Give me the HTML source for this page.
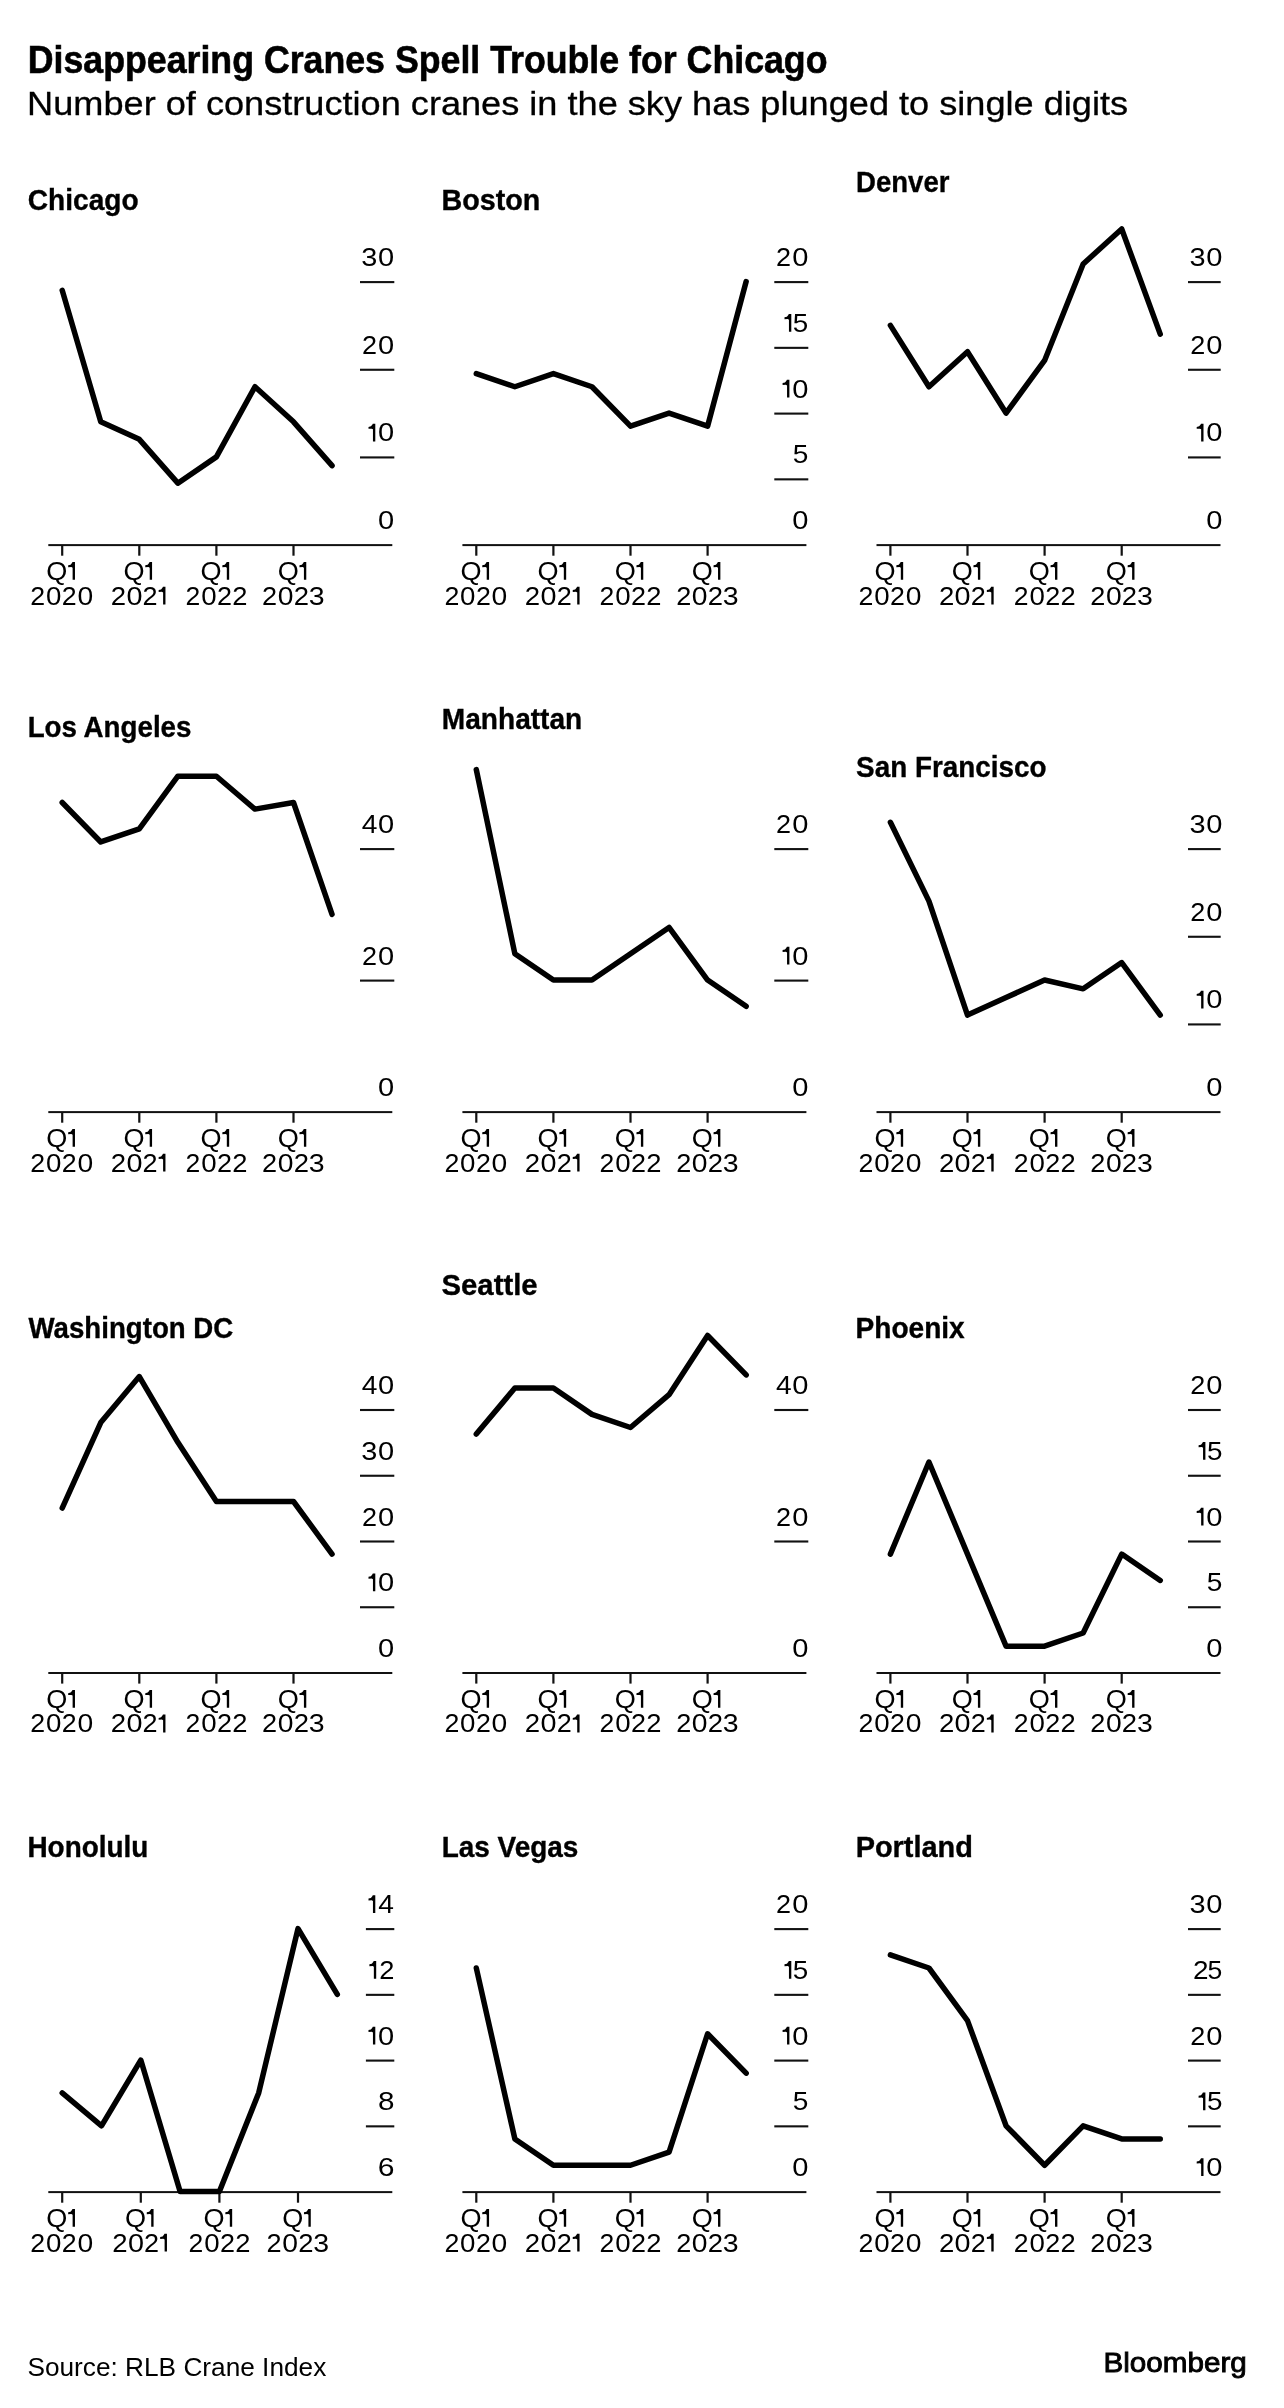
<!DOCTYPE html>
<html><head><meta charset="utf-8"><style>
html,body{margin:0;padding:0;background:#fff;}
svg{display:block;filter:grayscale(1);}
text{font-family:"Liberation Sans",sans-serif;fill:#000;}
</style></head><body>
<svg width="1284" height="2408" viewBox="0 0 1284 2408">
<rect width="1284" height="2408" fill="#fff"/>
<text x="27.72" y="73.20" font-size="38.5" font-weight="bold" textLength="799.77" lengthAdjust="spacingAndGlyphs" stroke="#000" stroke-width="0.6">Disappearing Cranes Spell Trouble for Chicago</text>
<text x="27.14" y="114.50" font-size="33.3" textLength="1100.97" lengthAdjust="spacingAndGlyphs" stroke="#000" stroke-width="0.3">Number of construction cranes in the sky has plunged to single digits</text>
<text x="27.75" y="209.70" font-size="28.8" font-weight="bold" textLength="110.85" lengthAdjust="spacingAndGlyphs" stroke="#000" stroke-width="0.35">Chicago</text>
<text x="378.06" y="529.10" font-size="25.4" textLength="16.17" lengthAdjust="spacingAndGlyphs">0</text>
<rect x="360.00" y="456.38" width="34.30" height="2.1" fill="#111"/>
<path d="M375.30,423.63 L375.30,441.43 L372.95,441.43 L372.95,429.33 L371.70,428.63 L368.50,428.83 L368.50,426.93 L370.90,426.33 L372.30,424.63 L372.80,423.63 Z"/>
<text x="378.06" y="441.43" font-size="25.4" textLength="16.17" lengthAdjust="spacingAndGlyphs">0</text>
<rect x="360.00" y="368.72" width="34.30" height="2.1" fill="#111"/>
<text x="362.04" y="353.77" font-size="25.4" textLength="15.02" lengthAdjust="spacingAndGlyphs">2</text>
<text x="378.06" y="353.77" font-size="25.4" textLength="16.17" lengthAdjust="spacingAndGlyphs">0</text>
<rect x="360.00" y="281.05" width="34.30" height="2.1" fill="#111"/>
<text x="361.20" y="266.10" font-size="25.4" textLength="16.07" lengthAdjust="spacingAndGlyphs">3</text>
<text x="378.06" y="266.10" font-size="25.4" textLength="16.17" lengthAdjust="spacingAndGlyphs">0</text>
<rect x="48.30" y="544.10" width="344.00" height="2.0" fill="#111"/>
<rect x="61.10" y="545.10" width="2.2" height="10.6" fill="#111"/>
<text x="46.36" y="579.80" font-size="25.4" textLength="21.09" lengthAdjust="spacingAndGlyphs">Q</text>
<path d="M74.97,562.00 L74.97,579.80 L72.62,579.80 L72.62,567.70 L71.37,567.00 L68.17,567.20 L68.17,565.30 L70.57,564.70 L71.97,563.00 L72.47,562.00 Z"/>
<text x="30.37" y="604.50" font-size="25.4" textLength="14.87" lengthAdjust="spacingAndGlyphs">2</text>
<text x="45.99" y="604.50" font-size="25.4" textLength="15.40" lengthAdjust="spacingAndGlyphs">0</text>
<text x="61.88" y="604.50" font-size="25.4" textLength="14.87" lengthAdjust="spacingAndGlyphs">2</text>
<text x="77.48" y="604.50" font-size="25.4" textLength="15.72" lengthAdjust="spacingAndGlyphs">0</text>
<rect x="138.20" y="545.10" width="2.2" height="10.6" fill="#111"/>
<text x="123.46" y="579.80" font-size="25.4" textLength="21.09" lengthAdjust="spacingAndGlyphs">Q</text>
<path d="M152.07,562.00 L152.07,579.80 L149.72,579.80 L149.72,567.70 L148.47,567.00 L145.27,567.20 L145.27,565.30 L147.67,564.70 L149.07,563.00 L149.57,562.00 Z"/>
<text x="110.71" y="604.50" font-size="25.4" textLength="15.33" lengthAdjust="spacingAndGlyphs">2</text>
<text x="126.44" y="604.50" font-size="25.4" textLength="16.01" lengthAdjust="spacingAndGlyphs">0</text>
<text x="142.61" y="604.50" font-size="25.4" textLength="15.04" lengthAdjust="spacingAndGlyphs">2</text>
<path d="M165.46,586.70 L165.46,604.50 L163.11,604.50 L163.11,592.40 L161.86,591.70 L158.66,591.90 L158.66,590.00 L161.06,589.40 L162.46,587.70 L162.96,586.70 Z"/>
<rect x="215.30" y="545.10" width="2.2" height="10.6" fill="#111"/>
<text x="200.56" y="579.80" font-size="25.4" textLength="21.09" lengthAdjust="spacingAndGlyphs">Q</text>
<path d="M229.17,562.00 L229.17,579.80 L226.82,579.80 L226.82,567.70 L225.57,567.00 L222.37,567.20 L222.37,565.30 L224.77,564.70 L226.17,563.00 L226.67,562.00 Z"/>
<text x="185.48" y="604.50" font-size="25.4" textLength="14.75" lengthAdjust="spacingAndGlyphs">2</text>
<text x="201.25" y="604.50" font-size="25.4" textLength="15.40" lengthAdjust="spacingAndGlyphs">0</text>
<text x="217.02" y="604.50" font-size="25.4" textLength="15.00" lengthAdjust="spacingAndGlyphs">2</text>
<text x="232.21" y="604.50" font-size="25.4" textLength="15.20" lengthAdjust="spacingAndGlyphs">2</text>
<rect x="292.40" y="545.10" width="2.2" height="10.6" fill="#111"/>
<text x="277.66" y="579.80" font-size="25.4" textLength="21.09" lengthAdjust="spacingAndGlyphs">Q</text>
<path d="M306.27,562.00 L306.27,579.80 L303.92,579.80 L303.92,567.70 L302.67,567.00 L299.47,567.20 L299.47,565.30 L301.87,564.70 L303.27,563.00 L303.77,562.00 Z"/>
<text x="262.08" y="604.50" font-size="25.4" textLength="15.06" lengthAdjust="spacingAndGlyphs">2</text>
<text x="277.70" y="604.50" font-size="25.4" textLength="15.72" lengthAdjust="spacingAndGlyphs">0</text>
<text x="293.68" y="604.50" font-size="25.4" textLength="15.26" lengthAdjust="spacingAndGlyphs">2</text>
<text x="308.71" y="604.50" font-size="25.4" textLength="15.84" lengthAdjust="spacingAndGlyphs">3</text>
<polyline points="62.20,290.32 100.75,421.82 139.30,439.35 177.85,483.18 216.40,456.88 254.95,386.75 293.50,421.82 332.05,465.65" fill="none" stroke="#000" stroke-width="5.5" stroke-linejoin="round" stroke-linecap="round"/>
<text x="441.58" y="209.70" font-size="28.8" font-weight="bold" textLength="98.80" lengthAdjust="spacingAndGlyphs" stroke="#000" stroke-width="0.35">Boston</text>
<text x="792.16" y="529.10" font-size="25.4" textLength="16.17" lengthAdjust="spacingAndGlyphs">0</text>
<rect x="774.30" y="478.30" width="34.00" height="2.1" fill="#111"/>
<text x="792.78" y="463.35" font-size="25.4" textLength="15.60" lengthAdjust="spacingAndGlyphs">5</text>
<rect x="774.30" y="412.55" width="34.00" height="2.1" fill="#111"/>
<path d="M789.40,379.80 L789.40,397.60 L787.05,397.60 L787.05,385.50 L785.80,384.80 L782.60,385.00 L782.60,383.10 L785.00,382.50 L786.40,380.80 L786.90,379.80 Z"/>
<text x="792.16" y="397.60" font-size="25.4" textLength="16.17" lengthAdjust="spacingAndGlyphs">0</text>
<rect x="774.30" y="346.80" width="34.00" height="2.1" fill="#111"/>
<path d="M791.30,314.05 L791.30,331.85 L788.95,331.85 L788.95,319.75 L787.70,319.05 L784.50,319.25 L784.50,317.35 L786.90,316.75 L788.30,315.05 L788.80,314.05 Z"/>
<text x="792.89" y="331.85" font-size="25.4" textLength="15.48" lengthAdjust="spacingAndGlyphs">5</text>
<rect x="774.30" y="281.05" width="34.00" height="2.1" fill="#111"/>
<text x="776.14" y="266.10" font-size="25.4" textLength="15.02" lengthAdjust="spacingAndGlyphs">2</text>
<text x="792.16" y="266.10" font-size="25.4" textLength="16.17" lengthAdjust="spacingAndGlyphs">0</text>
<rect x="462.40" y="544.10" width="344.00" height="2.0" fill="#111"/>
<rect x="475.20" y="545.10" width="2.2" height="10.6" fill="#111"/>
<text x="460.46" y="579.80" font-size="25.4" textLength="21.09" lengthAdjust="spacingAndGlyphs">Q</text>
<path d="M489.07,562.00 L489.07,579.80 L486.72,579.80 L486.72,567.70 L485.47,567.00 L482.27,567.20 L482.27,565.30 L484.67,564.70 L486.07,563.00 L486.57,562.00 Z"/>
<text x="444.47" y="604.50" font-size="25.4" textLength="14.87" lengthAdjust="spacingAndGlyphs">2</text>
<text x="460.09" y="604.50" font-size="25.4" textLength="15.40" lengthAdjust="spacingAndGlyphs">0</text>
<text x="475.98" y="604.50" font-size="25.4" textLength="14.87" lengthAdjust="spacingAndGlyphs">2</text>
<text x="491.58" y="604.50" font-size="25.4" textLength="15.72" lengthAdjust="spacingAndGlyphs">0</text>
<rect x="552.30" y="545.10" width="2.2" height="10.6" fill="#111"/>
<text x="537.56" y="579.80" font-size="25.4" textLength="21.09" lengthAdjust="spacingAndGlyphs">Q</text>
<path d="M566.17,562.00 L566.17,579.80 L563.82,579.80 L563.82,567.70 L562.57,567.00 L559.37,567.20 L559.37,565.30 L561.77,564.70 L563.17,563.00 L563.67,562.00 Z"/>
<text x="524.81" y="604.50" font-size="25.4" textLength="15.33" lengthAdjust="spacingAndGlyphs">2</text>
<text x="540.54" y="604.50" font-size="25.4" textLength="16.01" lengthAdjust="spacingAndGlyphs">0</text>
<text x="556.71" y="604.50" font-size="25.4" textLength="15.04" lengthAdjust="spacingAndGlyphs">2</text>
<path d="M579.56,586.70 L579.56,604.50 L577.21,604.50 L577.21,592.40 L575.96,591.70 L572.76,591.90 L572.76,590.00 L575.16,589.40 L576.56,587.70 L577.06,586.70 Z"/>
<rect x="629.40" y="545.10" width="2.2" height="10.6" fill="#111"/>
<text x="614.66" y="579.80" font-size="25.4" textLength="21.09" lengthAdjust="spacingAndGlyphs">Q</text>
<path d="M643.27,562.00 L643.27,579.80 L640.92,579.80 L640.92,567.70 L639.67,567.00 L636.47,567.20 L636.47,565.30 L638.87,564.70 L640.27,563.00 L640.77,562.00 Z"/>
<text x="599.58" y="604.50" font-size="25.4" textLength="14.75" lengthAdjust="spacingAndGlyphs">2</text>
<text x="615.35" y="604.50" font-size="25.4" textLength="15.40" lengthAdjust="spacingAndGlyphs">0</text>
<text x="631.12" y="604.50" font-size="25.4" textLength="15.00" lengthAdjust="spacingAndGlyphs">2</text>
<text x="646.31" y="604.50" font-size="25.4" textLength="15.20" lengthAdjust="spacingAndGlyphs">2</text>
<rect x="706.50" y="545.10" width="2.2" height="10.6" fill="#111"/>
<text x="691.76" y="579.80" font-size="25.4" textLength="21.09" lengthAdjust="spacingAndGlyphs">Q</text>
<path d="M720.37,562.00 L720.37,579.80 L718.02,579.80 L718.02,567.70 L716.77,567.00 L713.57,567.20 L713.57,565.30 L715.97,564.70 L717.37,563.00 L717.87,562.00 Z"/>
<text x="676.18" y="604.50" font-size="25.4" textLength="15.06" lengthAdjust="spacingAndGlyphs">2</text>
<text x="691.80" y="604.50" font-size="25.4" textLength="15.72" lengthAdjust="spacingAndGlyphs">0</text>
<text x="707.78" y="604.50" font-size="25.4" textLength="15.26" lengthAdjust="spacingAndGlyphs">2</text>
<text x="722.81" y="604.50" font-size="25.4" textLength="15.84" lengthAdjust="spacingAndGlyphs">3</text>
<polyline points="476.30,373.60 514.85,386.75 553.40,373.60 591.95,386.75 630.50,426.20 669.05,413.05 707.60,426.20 746.15,281.55" fill="none" stroke="#000" stroke-width="5.5" stroke-linejoin="round" stroke-linecap="round"/>
<text x="856.06" y="191.70" font-size="28.8" font-weight="bold" textLength="93.36" lengthAdjust="spacingAndGlyphs" stroke="#000" stroke-width="0.35">Denver</text>
<text x="1206.26" y="529.10" font-size="25.4" textLength="16.17" lengthAdjust="spacingAndGlyphs">0</text>
<rect x="1188.00" y="456.38" width="32.70" height="2.1" fill="#111"/>
<path d="M1203.50,423.63 L1203.50,441.43 L1201.15,441.43 L1201.15,429.33 L1199.90,428.63 L1196.70,428.83 L1196.70,426.93 L1199.10,426.33 L1200.50,424.63 L1201.00,423.63 Z"/>
<text x="1206.26" y="441.43" font-size="25.4" textLength="16.17" lengthAdjust="spacingAndGlyphs">0</text>
<rect x="1188.00" y="368.72" width="32.70" height="2.1" fill="#111"/>
<text x="1190.24" y="353.77" font-size="25.4" textLength="15.02" lengthAdjust="spacingAndGlyphs">2</text>
<text x="1206.26" y="353.77" font-size="25.4" textLength="16.17" lengthAdjust="spacingAndGlyphs">0</text>
<rect x="1188.00" y="281.05" width="32.70" height="2.1" fill="#111"/>
<text x="1189.40" y="266.10" font-size="25.4" textLength="16.07" lengthAdjust="spacingAndGlyphs">3</text>
<text x="1206.26" y="266.10" font-size="25.4" textLength="16.17" lengthAdjust="spacingAndGlyphs">0</text>
<rect x="876.50" y="544.10" width="344.00" height="2.0" fill="#111"/>
<rect x="889.30" y="545.10" width="2.2" height="10.6" fill="#111"/>
<text x="874.56" y="579.80" font-size="25.4" textLength="21.09" lengthAdjust="spacingAndGlyphs">Q</text>
<path d="M903.17,562.00 L903.17,579.80 L900.82,579.80 L900.82,567.70 L899.57,567.00 L896.37,567.20 L896.37,565.30 L898.77,564.70 L900.17,563.00 L900.67,562.00 Z"/>
<text x="858.57" y="604.50" font-size="25.4" textLength="14.87" lengthAdjust="spacingAndGlyphs">2</text>
<text x="874.19" y="604.50" font-size="25.4" textLength="15.40" lengthAdjust="spacingAndGlyphs">0</text>
<text x="890.08" y="604.50" font-size="25.4" textLength="14.87" lengthAdjust="spacingAndGlyphs">2</text>
<text x="905.68" y="604.50" font-size="25.4" textLength="15.72" lengthAdjust="spacingAndGlyphs">0</text>
<rect x="966.40" y="545.10" width="2.2" height="10.6" fill="#111"/>
<text x="951.66" y="579.80" font-size="25.4" textLength="21.09" lengthAdjust="spacingAndGlyphs">Q</text>
<path d="M980.27,562.00 L980.27,579.80 L977.92,579.80 L977.92,567.70 L976.67,567.00 L973.47,567.20 L973.47,565.30 L975.87,564.70 L977.27,563.00 L977.77,562.00 Z"/>
<text x="938.91" y="604.50" font-size="25.4" textLength="15.33" lengthAdjust="spacingAndGlyphs">2</text>
<text x="954.64" y="604.50" font-size="25.4" textLength="16.01" lengthAdjust="spacingAndGlyphs">0</text>
<text x="970.81" y="604.50" font-size="25.4" textLength="15.04" lengthAdjust="spacingAndGlyphs">2</text>
<path d="M993.66,586.70 L993.66,604.50 L991.31,604.50 L991.31,592.40 L990.06,591.70 L986.86,591.90 L986.86,590.00 L989.26,589.40 L990.66,587.70 L991.16,586.70 Z"/>
<rect x="1043.50" y="545.10" width="2.2" height="10.6" fill="#111"/>
<text x="1028.76" y="579.80" font-size="25.4" textLength="21.09" lengthAdjust="spacingAndGlyphs">Q</text>
<path d="M1057.37,562.00 L1057.37,579.80 L1055.02,579.80 L1055.02,567.70 L1053.77,567.00 L1050.57,567.20 L1050.57,565.30 L1052.97,564.70 L1054.37,563.00 L1054.87,562.00 Z"/>
<text x="1013.68" y="604.50" font-size="25.4" textLength="14.75" lengthAdjust="spacingAndGlyphs">2</text>
<text x="1029.45" y="604.50" font-size="25.4" textLength="15.40" lengthAdjust="spacingAndGlyphs">0</text>
<text x="1045.22" y="604.50" font-size="25.4" textLength="15.00" lengthAdjust="spacingAndGlyphs">2</text>
<text x="1060.41" y="604.50" font-size="25.4" textLength="15.20" lengthAdjust="spacingAndGlyphs">2</text>
<rect x="1120.60" y="545.10" width="2.2" height="10.6" fill="#111"/>
<text x="1105.86" y="579.80" font-size="25.4" textLength="21.09" lengthAdjust="spacingAndGlyphs">Q</text>
<path d="M1134.47,562.00 L1134.47,579.80 L1132.12,579.80 L1132.12,567.70 L1130.87,567.00 L1127.67,567.20 L1127.67,565.30 L1130.07,564.70 L1131.47,563.00 L1131.97,562.00 Z"/>
<text x="1090.28" y="604.50" font-size="25.4" textLength="15.06" lengthAdjust="spacingAndGlyphs">2</text>
<text x="1105.90" y="604.50" font-size="25.4" textLength="15.72" lengthAdjust="spacingAndGlyphs">0</text>
<text x="1121.88" y="604.50" font-size="25.4" textLength="15.26" lengthAdjust="spacingAndGlyphs">2</text>
<text x="1136.91" y="604.50" font-size="25.4" textLength="15.84" lengthAdjust="spacingAndGlyphs">3</text>
<polyline points="890.40,325.38 928.95,386.75 967.50,351.68 1006.05,413.05 1044.60,360.45 1083.15,264.02 1121.70,228.95 1160.25,334.15" fill="none" stroke="#000" stroke-width="5.5" stroke-linejoin="round" stroke-linecap="round"/>
<text x="27.66" y="737.00" font-size="28.8" font-weight="bold" textLength="163.77" lengthAdjust="spacingAndGlyphs" stroke="#000" stroke-width="0.35">Los Angeles</text>
<text x="378.06" y="1096.10" font-size="25.4" textLength="16.17" lengthAdjust="spacingAndGlyphs">0</text>
<rect x="360.00" y="979.55" width="34.30" height="2.1" fill="#111"/>
<text x="362.04" y="964.60" font-size="25.4" textLength="15.02" lengthAdjust="spacingAndGlyphs">2</text>
<text x="378.06" y="964.60" font-size="25.4" textLength="16.17" lengthAdjust="spacingAndGlyphs">0</text>
<rect x="360.00" y="848.05" width="34.30" height="2.1" fill="#111"/>
<text x="361.85" y="833.10" font-size="25.4" textLength="15.67" lengthAdjust="spacingAndGlyphs">4</text>
<text x="378.06" y="833.10" font-size="25.4" textLength="16.17" lengthAdjust="spacingAndGlyphs">0</text>
<rect x="48.30" y="1111.10" width="344.00" height="2.0" fill="#111"/>
<rect x="61.10" y="1112.10" width="2.2" height="10.6" fill="#111"/>
<text x="46.36" y="1146.80" font-size="25.4" textLength="21.09" lengthAdjust="spacingAndGlyphs">Q</text>
<path d="M74.97,1129.00 L74.97,1146.80 L72.62,1146.80 L72.62,1134.70 L71.37,1134.00 L68.17,1134.20 L68.17,1132.30 L70.57,1131.70 L71.97,1130.00 L72.47,1129.00 Z"/>
<text x="30.37" y="1171.50" font-size="25.4" textLength="14.87" lengthAdjust="spacingAndGlyphs">2</text>
<text x="45.99" y="1171.50" font-size="25.4" textLength="15.40" lengthAdjust="spacingAndGlyphs">0</text>
<text x="61.88" y="1171.50" font-size="25.4" textLength="14.87" lengthAdjust="spacingAndGlyphs">2</text>
<text x="77.48" y="1171.50" font-size="25.4" textLength="15.72" lengthAdjust="spacingAndGlyphs">0</text>
<rect x="138.20" y="1112.10" width="2.2" height="10.6" fill="#111"/>
<text x="123.46" y="1146.80" font-size="25.4" textLength="21.09" lengthAdjust="spacingAndGlyphs">Q</text>
<path d="M152.07,1129.00 L152.07,1146.80 L149.72,1146.80 L149.72,1134.70 L148.47,1134.00 L145.27,1134.20 L145.27,1132.30 L147.67,1131.70 L149.07,1130.00 L149.57,1129.00 Z"/>
<text x="110.71" y="1171.50" font-size="25.4" textLength="15.33" lengthAdjust="spacingAndGlyphs">2</text>
<text x="126.44" y="1171.50" font-size="25.4" textLength="16.01" lengthAdjust="spacingAndGlyphs">0</text>
<text x="142.61" y="1171.50" font-size="25.4" textLength="15.04" lengthAdjust="spacingAndGlyphs">2</text>
<path d="M165.46,1153.70 L165.46,1171.50 L163.11,1171.50 L163.11,1159.40 L161.86,1158.70 L158.66,1158.90 L158.66,1157.00 L161.06,1156.40 L162.46,1154.70 L162.96,1153.70 Z"/>
<rect x="215.30" y="1112.10" width="2.2" height="10.6" fill="#111"/>
<text x="200.56" y="1146.80" font-size="25.4" textLength="21.09" lengthAdjust="spacingAndGlyphs">Q</text>
<path d="M229.17,1129.00 L229.17,1146.80 L226.82,1146.80 L226.82,1134.70 L225.57,1134.00 L222.37,1134.20 L222.37,1132.30 L224.77,1131.70 L226.17,1130.00 L226.67,1129.00 Z"/>
<text x="185.48" y="1171.50" font-size="25.4" textLength="14.75" lengthAdjust="spacingAndGlyphs">2</text>
<text x="201.25" y="1171.50" font-size="25.4" textLength="15.40" lengthAdjust="spacingAndGlyphs">0</text>
<text x="217.02" y="1171.50" font-size="25.4" textLength="15.00" lengthAdjust="spacingAndGlyphs">2</text>
<text x="232.21" y="1171.50" font-size="25.4" textLength="15.20" lengthAdjust="spacingAndGlyphs">2</text>
<rect x="292.40" y="1112.10" width="2.2" height="10.6" fill="#111"/>
<text x="277.66" y="1146.80" font-size="25.4" textLength="21.09" lengthAdjust="spacingAndGlyphs">Q</text>
<path d="M306.27,1129.00 L306.27,1146.80 L303.92,1146.80 L303.92,1134.70 L302.67,1134.00 L299.47,1134.20 L299.47,1132.30 L301.87,1131.70 L303.27,1130.00 L303.77,1129.00 Z"/>
<text x="262.08" y="1171.50" font-size="25.4" textLength="15.06" lengthAdjust="spacingAndGlyphs">2</text>
<text x="277.70" y="1171.50" font-size="25.4" textLength="15.72" lengthAdjust="spacingAndGlyphs">0</text>
<text x="293.68" y="1171.50" font-size="25.4" textLength="15.26" lengthAdjust="spacingAndGlyphs">2</text>
<text x="308.71" y="1171.50" font-size="25.4" textLength="15.84" lengthAdjust="spacingAndGlyphs">3</text>
<polyline points="62.20,802.52 100.75,841.97 139.30,828.82 177.85,776.22 216.40,776.22 254.95,809.10 293.50,802.52 332.05,914.30" fill="none" stroke="#000" stroke-width="5.5" stroke-linejoin="round" stroke-linecap="round"/>
<text x="441.82" y="728.80" font-size="28.8" font-weight="bold" textLength="140.42" lengthAdjust="spacingAndGlyphs" stroke="#000" stroke-width="0.35">Manhattan</text>
<text x="792.16" y="1096.10" font-size="25.4" textLength="16.17" lengthAdjust="spacingAndGlyphs">0</text>
<rect x="774.30" y="979.55" width="34.00" height="2.1" fill="#111"/>
<path d="M789.40,946.80 L789.40,964.60 L787.05,964.60 L787.05,952.50 L785.80,951.80 L782.60,952.00 L782.60,950.10 L785.00,949.50 L786.40,947.80 L786.90,946.80 Z"/>
<text x="792.16" y="964.60" font-size="25.4" textLength="16.17" lengthAdjust="spacingAndGlyphs">0</text>
<rect x="774.30" y="848.05" width="34.00" height="2.1" fill="#111"/>
<text x="776.14" y="833.10" font-size="25.4" textLength="15.02" lengthAdjust="spacingAndGlyphs">2</text>
<text x="792.16" y="833.10" font-size="25.4" textLength="16.17" lengthAdjust="spacingAndGlyphs">0</text>
<rect x="462.40" y="1111.10" width="344.00" height="2.0" fill="#111"/>
<rect x="475.20" y="1112.10" width="2.2" height="10.6" fill="#111"/>
<text x="460.46" y="1146.80" font-size="25.4" textLength="21.09" lengthAdjust="spacingAndGlyphs">Q</text>
<path d="M489.07,1129.00 L489.07,1146.80 L486.72,1146.80 L486.72,1134.70 L485.47,1134.00 L482.27,1134.20 L482.27,1132.30 L484.67,1131.70 L486.07,1130.00 L486.57,1129.00 Z"/>
<text x="444.47" y="1171.50" font-size="25.4" textLength="14.87" lengthAdjust="spacingAndGlyphs">2</text>
<text x="460.09" y="1171.50" font-size="25.4" textLength="15.40" lengthAdjust="spacingAndGlyphs">0</text>
<text x="475.98" y="1171.50" font-size="25.4" textLength="14.87" lengthAdjust="spacingAndGlyphs">2</text>
<text x="491.58" y="1171.50" font-size="25.4" textLength="15.72" lengthAdjust="spacingAndGlyphs">0</text>
<rect x="552.30" y="1112.10" width="2.2" height="10.6" fill="#111"/>
<text x="537.56" y="1146.80" font-size="25.4" textLength="21.09" lengthAdjust="spacingAndGlyphs">Q</text>
<path d="M566.17,1129.00 L566.17,1146.80 L563.82,1146.80 L563.82,1134.70 L562.57,1134.00 L559.37,1134.20 L559.37,1132.30 L561.77,1131.70 L563.17,1130.00 L563.67,1129.00 Z"/>
<text x="524.81" y="1171.50" font-size="25.4" textLength="15.33" lengthAdjust="spacingAndGlyphs">2</text>
<text x="540.54" y="1171.50" font-size="25.4" textLength="16.01" lengthAdjust="spacingAndGlyphs">0</text>
<text x="556.71" y="1171.50" font-size="25.4" textLength="15.04" lengthAdjust="spacingAndGlyphs">2</text>
<path d="M579.56,1153.70 L579.56,1171.50 L577.21,1171.50 L577.21,1159.40 L575.96,1158.70 L572.76,1158.90 L572.76,1157.00 L575.16,1156.40 L576.56,1154.70 L577.06,1153.70 Z"/>
<rect x="629.40" y="1112.10" width="2.2" height="10.6" fill="#111"/>
<text x="614.66" y="1146.80" font-size="25.4" textLength="21.09" lengthAdjust="spacingAndGlyphs">Q</text>
<path d="M643.27,1129.00 L643.27,1146.80 L640.92,1146.80 L640.92,1134.70 L639.67,1134.00 L636.47,1134.20 L636.47,1132.30 L638.87,1131.70 L640.27,1130.00 L640.77,1129.00 Z"/>
<text x="599.58" y="1171.50" font-size="25.4" textLength="14.75" lengthAdjust="spacingAndGlyphs">2</text>
<text x="615.35" y="1171.50" font-size="25.4" textLength="15.40" lengthAdjust="spacingAndGlyphs">0</text>
<text x="631.12" y="1171.50" font-size="25.4" textLength="15.00" lengthAdjust="spacingAndGlyphs">2</text>
<text x="646.31" y="1171.50" font-size="25.4" textLength="15.20" lengthAdjust="spacingAndGlyphs">2</text>
<rect x="706.50" y="1112.10" width="2.2" height="10.6" fill="#111"/>
<text x="691.76" y="1146.80" font-size="25.4" textLength="21.09" lengthAdjust="spacingAndGlyphs">Q</text>
<path d="M720.37,1129.00 L720.37,1146.80 L718.02,1146.80 L718.02,1134.70 L716.77,1134.00 L713.57,1134.20 L713.57,1132.30 L715.97,1131.70 L717.37,1130.00 L717.87,1129.00 Z"/>
<text x="676.18" y="1171.50" font-size="25.4" textLength="15.06" lengthAdjust="spacingAndGlyphs">2</text>
<text x="691.80" y="1171.50" font-size="25.4" textLength="15.72" lengthAdjust="spacingAndGlyphs">0</text>
<text x="707.78" y="1171.50" font-size="25.4" textLength="15.26" lengthAdjust="spacingAndGlyphs">2</text>
<text x="722.81" y="1171.50" font-size="25.4" textLength="15.84" lengthAdjust="spacingAndGlyphs">3</text>
<polyline points="476.30,769.65 514.85,953.75 553.40,980.05 591.95,980.05 630.50,953.75 669.05,927.45 707.60,980.05 746.15,1006.35" fill="none" stroke="#000" stroke-width="5.5" stroke-linejoin="round" stroke-linecap="round"/>
<text x="856.10" y="776.70" font-size="28.8" font-weight="bold" textLength="190.29" lengthAdjust="spacingAndGlyphs" stroke="#000" stroke-width="0.35">San Francisco</text>
<text x="1206.26" y="1096.10" font-size="25.4" textLength="16.17" lengthAdjust="spacingAndGlyphs">0</text>
<rect x="1188.00" y="1023.38" width="32.70" height="2.1" fill="#111"/>
<path d="M1203.50,990.63 L1203.50,1008.43 L1201.15,1008.43 L1201.15,996.33 L1199.90,995.63 L1196.70,995.83 L1196.70,993.93 L1199.10,993.33 L1200.50,991.63 L1201.00,990.63 Z"/>
<text x="1206.26" y="1008.43" font-size="25.4" textLength="16.17" lengthAdjust="spacingAndGlyphs">0</text>
<rect x="1188.00" y="935.72" width="32.70" height="2.1" fill="#111"/>
<text x="1190.24" y="920.77" font-size="25.4" textLength="15.02" lengthAdjust="spacingAndGlyphs">2</text>
<text x="1206.26" y="920.77" font-size="25.4" textLength="16.17" lengthAdjust="spacingAndGlyphs">0</text>
<rect x="1188.00" y="848.05" width="32.70" height="2.1" fill="#111"/>
<text x="1189.40" y="833.10" font-size="25.4" textLength="16.07" lengthAdjust="spacingAndGlyphs">3</text>
<text x="1206.26" y="833.10" font-size="25.4" textLength="16.17" lengthAdjust="spacingAndGlyphs">0</text>
<rect x="876.50" y="1111.10" width="344.00" height="2.0" fill="#111"/>
<rect x="889.30" y="1112.10" width="2.2" height="10.6" fill="#111"/>
<text x="874.56" y="1146.80" font-size="25.4" textLength="21.09" lengthAdjust="spacingAndGlyphs">Q</text>
<path d="M903.17,1129.00 L903.17,1146.80 L900.82,1146.80 L900.82,1134.70 L899.57,1134.00 L896.37,1134.20 L896.37,1132.30 L898.77,1131.70 L900.17,1130.00 L900.67,1129.00 Z"/>
<text x="858.57" y="1171.50" font-size="25.4" textLength="14.87" lengthAdjust="spacingAndGlyphs">2</text>
<text x="874.19" y="1171.50" font-size="25.4" textLength="15.40" lengthAdjust="spacingAndGlyphs">0</text>
<text x="890.08" y="1171.50" font-size="25.4" textLength="14.87" lengthAdjust="spacingAndGlyphs">2</text>
<text x="905.68" y="1171.50" font-size="25.4" textLength="15.72" lengthAdjust="spacingAndGlyphs">0</text>
<rect x="966.40" y="1112.10" width="2.2" height="10.6" fill="#111"/>
<text x="951.66" y="1146.80" font-size="25.4" textLength="21.09" lengthAdjust="spacingAndGlyphs">Q</text>
<path d="M980.27,1129.00 L980.27,1146.80 L977.92,1146.80 L977.92,1134.70 L976.67,1134.00 L973.47,1134.20 L973.47,1132.30 L975.87,1131.70 L977.27,1130.00 L977.77,1129.00 Z"/>
<text x="938.91" y="1171.50" font-size="25.4" textLength="15.33" lengthAdjust="spacingAndGlyphs">2</text>
<text x="954.64" y="1171.50" font-size="25.4" textLength="16.01" lengthAdjust="spacingAndGlyphs">0</text>
<text x="970.81" y="1171.50" font-size="25.4" textLength="15.04" lengthAdjust="spacingAndGlyphs">2</text>
<path d="M993.66,1153.70 L993.66,1171.50 L991.31,1171.50 L991.31,1159.40 L990.06,1158.70 L986.86,1158.90 L986.86,1157.00 L989.26,1156.40 L990.66,1154.70 L991.16,1153.70 Z"/>
<rect x="1043.50" y="1112.10" width="2.2" height="10.6" fill="#111"/>
<text x="1028.76" y="1146.80" font-size="25.4" textLength="21.09" lengthAdjust="spacingAndGlyphs">Q</text>
<path d="M1057.37,1129.00 L1057.37,1146.80 L1055.02,1146.80 L1055.02,1134.70 L1053.77,1134.00 L1050.57,1134.20 L1050.57,1132.30 L1052.97,1131.70 L1054.37,1130.00 L1054.87,1129.00 Z"/>
<text x="1013.68" y="1171.50" font-size="25.4" textLength="14.75" lengthAdjust="spacingAndGlyphs">2</text>
<text x="1029.45" y="1171.50" font-size="25.4" textLength="15.40" lengthAdjust="spacingAndGlyphs">0</text>
<text x="1045.22" y="1171.50" font-size="25.4" textLength="15.00" lengthAdjust="spacingAndGlyphs">2</text>
<text x="1060.41" y="1171.50" font-size="25.4" textLength="15.20" lengthAdjust="spacingAndGlyphs">2</text>
<rect x="1120.60" y="1112.10" width="2.2" height="10.6" fill="#111"/>
<text x="1105.86" y="1146.80" font-size="25.4" textLength="21.09" lengthAdjust="spacingAndGlyphs">Q</text>
<path d="M1134.47,1129.00 L1134.47,1146.80 L1132.12,1146.80 L1132.12,1134.70 L1130.87,1134.00 L1127.67,1134.20 L1127.67,1132.30 L1130.07,1131.70 L1131.47,1130.00 L1131.97,1129.00 Z"/>
<text x="1090.28" y="1171.50" font-size="25.4" textLength="15.06" lengthAdjust="spacingAndGlyphs">2</text>
<text x="1105.90" y="1171.50" font-size="25.4" textLength="15.72" lengthAdjust="spacingAndGlyphs">0</text>
<text x="1121.88" y="1171.50" font-size="25.4" textLength="15.26" lengthAdjust="spacingAndGlyphs">2</text>
<text x="1136.91" y="1171.50" font-size="25.4" textLength="15.84" lengthAdjust="spacingAndGlyphs">3</text>
<polyline points="890.40,822.25 928.95,901.15 967.50,1015.12 1006.05,997.58 1044.60,980.05 1083.15,988.82 1121.70,962.52 1160.25,1015.12" fill="none" stroke="#000" stroke-width="5.5" stroke-linejoin="round" stroke-linecap="round"/>
<text x="28.57" y="1337.60" font-size="28.8" font-weight="bold" textLength="204.68" lengthAdjust="spacingAndGlyphs" stroke="#000" stroke-width="0.35">Washington DC</text>
<text x="378.06" y="1657.00" font-size="25.4" textLength="16.17" lengthAdjust="spacingAndGlyphs">0</text>
<rect x="360.00" y="1606.20" width="34.30" height="2.1" fill="#111"/>
<path d="M375.30,1573.45 L375.30,1591.25 L372.95,1591.25 L372.95,1579.15 L371.70,1578.45 L368.50,1578.65 L368.50,1576.75 L370.90,1576.15 L372.30,1574.45 L372.80,1573.45 Z"/>
<text x="378.06" y="1591.25" font-size="25.4" textLength="16.17" lengthAdjust="spacingAndGlyphs">0</text>
<rect x="360.00" y="1540.45" width="34.30" height="2.1" fill="#111"/>
<text x="362.04" y="1525.50" font-size="25.4" textLength="15.02" lengthAdjust="spacingAndGlyphs">2</text>
<text x="378.06" y="1525.50" font-size="25.4" textLength="16.17" lengthAdjust="spacingAndGlyphs">0</text>
<rect x="360.00" y="1474.70" width="34.30" height="2.1" fill="#111"/>
<text x="361.20" y="1459.75" font-size="25.4" textLength="16.07" lengthAdjust="spacingAndGlyphs">3</text>
<text x="378.06" y="1459.75" font-size="25.4" textLength="16.17" lengthAdjust="spacingAndGlyphs">0</text>
<rect x="360.00" y="1408.95" width="34.30" height="2.1" fill="#111"/>
<text x="361.85" y="1394.00" font-size="25.4" textLength="15.67" lengthAdjust="spacingAndGlyphs">4</text>
<text x="378.06" y="1394.00" font-size="25.4" textLength="16.17" lengthAdjust="spacingAndGlyphs">0</text>
<rect x="48.30" y="1672.00" width="344.00" height="2.0" fill="#111"/>
<rect x="61.10" y="1673.00" width="2.2" height="10.6" fill="#111"/>
<text x="46.36" y="1707.70" font-size="25.4" textLength="21.09" lengthAdjust="spacingAndGlyphs">Q</text>
<path d="M74.97,1689.90 L74.97,1707.70 L72.62,1707.70 L72.62,1695.60 L71.37,1694.90 L68.17,1695.10 L68.17,1693.20 L70.57,1692.60 L71.97,1690.90 L72.47,1689.90 Z"/>
<text x="30.37" y="1732.40" font-size="25.4" textLength="14.87" lengthAdjust="spacingAndGlyphs">2</text>
<text x="45.99" y="1732.40" font-size="25.4" textLength="15.40" lengthAdjust="spacingAndGlyphs">0</text>
<text x="61.88" y="1732.40" font-size="25.4" textLength="14.87" lengthAdjust="spacingAndGlyphs">2</text>
<text x="77.48" y="1732.40" font-size="25.4" textLength="15.72" lengthAdjust="spacingAndGlyphs">0</text>
<rect x="138.20" y="1673.00" width="2.2" height="10.6" fill="#111"/>
<text x="123.46" y="1707.70" font-size="25.4" textLength="21.09" lengthAdjust="spacingAndGlyphs">Q</text>
<path d="M152.07,1689.90 L152.07,1707.70 L149.72,1707.70 L149.72,1695.60 L148.47,1694.90 L145.27,1695.10 L145.27,1693.20 L147.67,1692.60 L149.07,1690.90 L149.57,1689.90 Z"/>
<text x="110.71" y="1732.40" font-size="25.4" textLength="15.33" lengthAdjust="spacingAndGlyphs">2</text>
<text x="126.44" y="1732.40" font-size="25.4" textLength="16.01" lengthAdjust="spacingAndGlyphs">0</text>
<text x="142.61" y="1732.40" font-size="25.4" textLength="15.04" lengthAdjust="spacingAndGlyphs">2</text>
<path d="M165.46,1714.60 L165.46,1732.40 L163.11,1732.40 L163.11,1720.30 L161.86,1719.60 L158.66,1719.80 L158.66,1717.90 L161.06,1717.30 L162.46,1715.60 L162.96,1714.60 Z"/>
<rect x="215.30" y="1673.00" width="2.2" height="10.6" fill="#111"/>
<text x="200.56" y="1707.70" font-size="25.4" textLength="21.09" lengthAdjust="spacingAndGlyphs">Q</text>
<path d="M229.17,1689.90 L229.17,1707.70 L226.82,1707.70 L226.82,1695.60 L225.57,1694.90 L222.37,1695.10 L222.37,1693.20 L224.77,1692.60 L226.17,1690.90 L226.67,1689.90 Z"/>
<text x="185.48" y="1732.40" font-size="25.4" textLength="14.75" lengthAdjust="spacingAndGlyphs">2</text>
<text x="201.25" y="1732.40" font-size="25.4" textLength="15.40" lengthAdjust="spacingAndGlyphs">0</text>
<text x="217.02" y="1732.40" font-size="25.4" textLength="15.00" lengthAdjust="spacingAndGlyphs">2</text>
<text x="232.21" y="1732.40" font-size="25.4" textLength="15.20" lengthAdjust="spacingAndGlyphs">2</text>
<rect x="292.40" y="1673.00" width="2.2" height="10.6" fill="#111"/>
<text x="277.66" y="1707.70" font-size="25.4" textLength="21.09" lengthAdjust="spacingAndGlyphs">Q</text>
<path d="M306.27,1689.90 L306.27,1707.70 L303.92,1707.70 L303.92,1695.60 L302.67,1694.90 L299.47,1695.10 L299.47,1693.20 L301.87,1692.60 L303.27,1690.90 L303.77,1689.90 Z"/>
<text x="262.08" y="1732.40" font-size="25.4" textLength="15.06" lengthAdjust="spacingAndGlyphs">2</text>
<text x="277.70" y="1732.40" font-size="25.4" textLength="15.72" lengthAdjust="spacingAndGlyphs">0</text>
<text x="293.68" y="1732.40" font-size="25.4" textLength="15.26" lengthAdjust="spacingAndGlyphs">2</text>
<text x="308.71" y="1732.40" font-size="25.4" textLength="15.84" lengthAdjust="spacingAndGlyphs">3</text>
<polyline points="62.20,1508.08 100.75,1422.60 139.30,1376.58 177.85,1442.33 216.40,1501.50 254.95,1501.50 293.50,1501.50 332.05,1554.10" fill="none" stroke="#000" stroke-width="5.5" stroke-linejoin="round" stroke-linecap="round"/>
<text x="441.56" y="1295.30" font-size="28.8" font-weight="bold" textLength="96.04" lengthAdjust="spacingAndGlyphs" stroke="#000" stroke-width="0.35">Seattle</text>
<text x="792.16" y="1657.00" font-size="25.4" textLength="16.17" lengthAdjust="spacingAndGlyphs">0</text>
<rect x="774.30" y="1540.45" width="34.00" height="2.1" fill="#111"/>
<text x="776.14" y="1525.50" font-size="25.4" textLength="15.02" lengthAdjust="spacingAndGlyphs">2</text>
<text x="792.16" y="1525.50" font-size="25.4" textLength="16.17" lengthAdjust="spacingAndGlyphs">0</text>
<rect x="774.30" y="1408.95" width="34.00" height="2.1" fill="#111"/>
<text x="775.95" y="1394.00" font-size="25.4" textLength="15.67" lengthAdjust="spacingAndGlyphs">4</text>
<text x="792.16" y="1394.00" font-size="25.4" textLength="16.17" lengthAdjust="spacingAndGlyphs">0</text>
<rect x="462.40" y="1672.00" width="344.00" height="2.0" fill="#111"/>
<rect x="475.20" y="1673.00" width="2.2" height="10.6" fill="#111"/>
<text x="460.46" y="1707.70" font-size="25.4" textLength="21.09" lengthAdjust="spacingAndGlyphs">Q</text>
<path d="M489.07,1689.90 L489.07,1707.70 L486.72,1707.70 L486.72,1695.60 L485.47,1694.90 L482.27,1695.10 L482.27,1693.20 L484.67,1692.60 L486.07,1690.90 L486.57,1689.90 Z"/>
<text x="444.47" y="1732.40" font-size="25.4" textLength="14.87" lengthAdjust="spacingAndGlyphs">2</text>
<text x="460.09" y="1732.40" font-size="25.4" textLength="15.40" lengthAdjust="spacingAndGlyphs">0</text>
<text x="475.98" y="1732.40" font-size="25.4" textLength="14.87" lengthAdjust="spacingAndGlyphs">2</text>
<text x="491.58" y="1732.40" font-size="25.4" textLength="15.72" lengthAdjust="spacingAndGlyphs">0</text>
<rect x="552.30" y="1673.00" width="2.2" height="10.6" fill="#111"/>
<text x="537.56" y="1707.70" font-size="25.4" textLength="21.09" lengthAdjust="spacingAndGlyphs">Q</text>
<path d="M566.17,1689.90 L566.17,1707.70 L563.82,1707.70 L563.82,1695.60 L562.57,1694.90 L559.37,1695.10 L559.37,1693.20 L561.77,1692.60 L563.17,1690.90 L563.67,1689.90 Z"/>
<text x="524.81" y="1732.40" font-size="25.4" textLength="15.33" lengthAdjust="spacingAndGlyphs">2</text>
<text x="540.54" y="1732.40" font-size="25.4" textLength="16.01" lengthAdjust="spacingAndGlyphs">0</text>
<text x="556.71" y="1732.40" font-size="25.4" textLength="15.04" lengthAdjust="spacingAndGlyphs">2</text>
<path d="M579.56,1714.60 L579.56,1732.40 L577.21,1732.40 L577.21,1720.30 L575.96,1719.60 L572.76,1719.80 L572.76,1717.90 L575.16,1717.30 L576.56,1715.60 L577.06,1714.60 Z"/>
<rect x="629.40" y="1673.00" width="2.2" height="10.6" fill="#111"/>
<text x="614.66" y="1707.70" font-size="25.4" textLength="21.09" lengthAdjust="spacingAndGlyphs">Q</text>
<path d="M643.27,1689.90 L643.27,1707.70 L640.92,1707.70 L640.92,1695.60 L639.67,1694.90 L636.47,1695.10 L636.47,1693.20 L638.87,1692.60 L640.27,1690.90 L640.77,1689.90 Z"/>
<text x="599.58" y="1732.40" font-size="25.4" textLength="14.75" lengthAdjust="spacingAndGlyphs">2</text>
<text x="615.35" y="1732.40" font-size="25.4" textLength="15.40" lengthAdjust="spacingAndGlyphs">0</text>
<text x="631.12" y="1732.40" font-size="25.4" textLength="15.00" lengthAdjust="spacingAndGlyphs">2</text>
<text x="646.31" y="1732.40" font-size="25.4" textLength="15.20" lengthAdjust="spacingAndGlyphs">2</text>
<rect x="706.50" y="1673.00" width="2.2" height="10.6" fill="#111"/>
<text x="691.76" y="1707.70" font-size="25.4" textLength="21.09" lengthAdjust="spacingAndGlyphs">Q</text>
<path d="M720.37,1689.90 L720.37,1707.70 L718.02,1707.70 L718.02,1695.60 L716.77,1694.90 L713.57,1695.10 L713.57,1693.20 L715.97,1692.60 L717.37,1690.90 L717.87,1689.90 Z"/>
<text x="676.18" y="1732.40" font-size="25.4" textLength="15.06" lengthAdjust="spacingAndGlyphs">2</text>
<text x="691.80" y="1732.40" font-size="25.4" textLength="15.72" lengthAdjust="spacingAndGlyphs">0</text>
<text x="707.78" y="1732.40" font-size="25.4" textLength="15.26" lengthAdjust="spacingAndGlyphs">2</text>
<text x="722.81" y="1732.40" font-size="25.4" textLength="15.84" lengthAdjust="spacingAndGlyphs">3</text>
<polyline points="476.30,1434.10 514.85,1388.08 553.40,1388.08 591.95,1414.38 630.50,1427.52 669.05,1394.65 707.60,1335.47 746.15,1374.92" fill="none" stroke="#000" stroke-width="5.5" stroke-linejoin="round" stroke-linecap="round"/>
<text x="855.52" y="1337.70" font-size="28.8" font-weight="bold" textLength="109.18" lengthAdjust="spacingAndGlyphs" stroke="#000" stroke-width="0.35">Phoenix</text>
<text x="1206.26" y="1657.00" font-size="25.4" textLength="16.17" lengthAdjust="spacingAndGlyphs">0</text>
<rect x="1188.00" y="1606.20" width="32.70" height="2.1" fill="#111"/>
<text x="1206.88" y="1591.25" font-size="25.4" textLength="15.60" lengthAdjust="spacingAndGlyphs">5</text>
<rect x="1188.00" y="1540.45" width="32.70" height="2.1" fill="#111"/>
<path d="M1203.50,1507.70 L1203.50,1525.50 L1201.15,1525.50 L1201.15,1513.40 L1199.90,1512.70 L1196.70,1512.90 L1196.70,1511.00 L1199.10,1510.40 L1200.50,1508.70 L1201.00,1507.70 Z"/>
<text x="1206.26" y="1525.50" font-size="25.4" textLength="16.17" lengthAdjust="spacingAndGlyphs">0</text>
<rect x="1188.00" y="1474.70" width="32.70" height="2.1" fill="#111"/>
<path d="M1205.40,1441.95 L1205.40,1459.75 L1203.05,1459.75 L1203.05,1447.65 L1201.80,1446.95 L1198.60,1447.15 L1198.60,1445.25 L1201.00,1444.65 L1202.40,1442.95 L1202.90,1441.95 Z"/>
<text x="1206.99" y="1459.75" font-size="25.4" textLength="15.48" lengthAdjust="spacingAndGlyphs">5</text>
<rect x="1188.00" y="1408.95" width="32.70" height="2.1" fill="#111"/>
<text x="1190.24" y="1394.00" font-size="25.4" textLength="15.02" lengthAdjust="spacingAndGlyphs">2</text>
<text x="1206.26" y="1394.00" font-size="25.4" textLength="16.17" lengthAdjust="spacingAndGlyphs">0</text>
<rect x="876.50" y="1672.00" width="344.00" height="2.0" fill="#111"/>
<rect x="889.30" y="1673.00" width="2.2" height="10.6" fill="#111"/>
<text x="874.56" y="1707.70" font-size="25.4" textLength="21.09" lengthAdjust="spacingAndGlyphs">Q</text>
<path d="M903.17,1689.90 L903.17,1707.70 L900.82,1707.70 L900.82,1695.60 L899.57,1694.90 L896.37,1695.10 L896.37,1693.20 L898.77,1692.60 L900.17,1690.90 L900.67,1689.90 Z"/>
<text x="858.57" y="1732.40" font-size="25.4" textLength="14.87" lengthAdjust="spacingAndGlyphs">2</text>
<text x="874.19" y="1732.40" font-size="25.4" textLength="15.40" lengthAdjust="spacingAndGlyphs">0</text>
<text x="890.08" y="1732.40" font-size="25.4" textLength="14.87" lengthAdjust="spacingAndGlyphs">2</text>
<text x="905.68" y="1732.40" font-size="25.4" textLength="15.72" lengthAdjust="spacingAndGlyphs">0</text>
<rect x="966.40" y="1673.00" width="2.2" height="10.6" fill="#111"/>
<text x="951.66" y="1707.70" font-size="25.4" textLength="21.09" lengthAdjust="spacingAndGlyphs">Q</text>
<path d="M980.27,1689.90 L980.27,1707.70 L977.92,1707.70 L977.92,1695.60 L976.67,1694.90 L973.47,1695.10 L973.47,1693.20 L975.87,1692.60 L977.27,1690.90 L977.77,1689.90 Z"/>
<text x="938.91" y="1732.40" font-size="25.4" textLength="15.33" lengthAdjust="spacingAndGlyphs">2</text>
<text x="954.64" y="1732.40" font-size="25.4" textLength="16.01" lengthAdjust="spacingAndGlyphs">0</text>
<text x="970.81" y="1732.40" font-size="25.4" textLength="15.04" lengthAdjust="spacingAndGlyphs">2</text>
<path d="M993.66,1714.60 L993.66,1732.40 L991.31,1732.40 L991.31,1720.30 L990.06,1719.60 L986.86,1719.80 L986.86,1717.90 L989.26,1717.30 L990.66,1715.60 L991.16,1714.60 Z"/>
<rect x="1043.50" y="1673.00" width="2.2" height="10.6" fill="#111"/>
<text x="1028.76" y="1707.70" font-size="25.4" textLength="21.09" lengthAdjust="spacingAndGlyphs">Q</text>
<path d="M1057.37,1689.90 L1057.37,1707.70 L1055.02,1707.70 L1055.02,1695.60 L1053.77,1694.90 L1050.57,1695.10 L1050.57,1693.20 L1052.97,1692.60 L1054.37,1690.90 L1054.87,1689.90 Z"/>
<text x="1013.68" y="1732.40" font-size="25.4" textLength="14.75" lengthAdjust="spacingAndGlyphs">2</text>
<text x="1029.45" y="1732.40" font-size="25.4" textLength="15.40" lengthAdjust="spacingAndGlyphs">0</text>
<text x="1045.22" y="1732.40" font-size="25.4" textLength="15.00" lengthAdjust="spacingAndGlyphs">2</text>
<text x="1060.41" y="1732.40" font-size="25.4" textLength="15.20" lengthAdjust="spacingAndGlyphs">2</text>
<rect x="1120.60" y="1673.00" width="2.2" height="10.6" fill="#111"/>
<text x="1105.86" y="1707.70" font-size="25.4" textLength="21.09" lengthAdjust="spacingAndGlyphs">Q</text>
<path d="M1134.47,1689.90 L1134.47,1707.70 L1132.12,1707.70 L1132.12,1695.60 L1130.87,1694.90 L1127.67,1695.10 L1127.67,1693.20 L1130.07,1692.60 L1131.47,1690.90 L1131.97,1689.90 Z"/>
<text x="1090.28" y="1732.40" font-size="25.4" textLength="15.06" lengthAdjust="spacingAndGlyphs">2</text>
<text x="1105.90" y="1732.40" font-size="25.4" textLength="15.72" lengthAdjust="spacingAndGlyphs">0</text>
<text x="1121.88" y="1732.40" font-size="25.4" textLength="15.26" lengthAdjust="spacingAndGlyphs">2</text>
<text x="1136.91" y="1732.40" font-size="25.4" textLength="15.84" lengthAdjust="spacingAndGlyphs">3</text>
<polyline points="890.40,1554.10 928.95,1462.05 967.50,1554.10 1006.05,1646.15 1044.60,1646.15 1083.15,1633.00 1121.70,1554.10 1160.25,1580.40" fill="none" stroke="#000" stroke-width="5.5" stroke-linejoin="round" stroke-linecap="round"/>
<text x="27.43" y="1856.80" font-size="28.8" font-weight="bold" textLength="120.91" lengthAdjust="spacingAndGlyphs" stroke="#000" stroke-width="0.35">Honolulu</text>
<text x="377.67" y="2176.10" font-size="25.4" textLength="16.75" lengthAdjust="spacingAndGlyphs">6</text>
<rect x="365.90" y="2125.30" width="28.40" height="2.1" fill="#111"/>
<text x="377.91" y="2110.35" font-size="25.4" textLength="16.47" lengthAdjust="spacingAndGlyphs">8</text>
<rect x="365.90" y="2059.55" width="28.40" height="2.1" fill="#111"/>
<path d="M375.30,2026.80 L375.30,2044.60 L372.95,2044.60 L372.95,2032.50 L371.70,2031.80 L368.50,2032.00 L368.50,2030.10 L370.90,2029.50 L372.30,2027.80 L372.80,2026.80 Z"/>
<text x="378.06" y="2044.60" font-size="25.4" textLength="16.17" lengthAdjust="spacingAndGlyphs">0</text>
<rect x="365.90" y="1993.80" width="28.40" height="2.1" fill="#111"/>
<path d="M376.20,1961.05 L376.20,1978.85 L373.85,1978.85 L373.85,1966.75 L372.60,1966.05 L369.40,1966.25 L369.40,1964.35 L371.80,1963.75 L373.20,1962.05 L373.70,1961.05 Z"/>
<text x="379.33" y="1978.85" font-size="25.4" textLength="15.14" lengthAdjust="spacingAndGlyphs">2</text>
<rect x="365.90" y="1928.05" width="28.40" height="2.1" fill="#111"/>
<path d="M375.30,1895.30 L375.30,1913.10 L372.95,1913.10 L372.95,1901.00 L371.70,1900.30 L368.50,1900.50 L368.50,1898.60 L370.90,1898.00 L372.30,1896.30 L372.80,1895.30 Z"/>
<text x="378.25" y="1913.10" font-size="25.4" textLength="15.67" lengthAdjust="spacingAndGlyphs">4</text>
<rect x="48.30" y="2191.10" width="344.00" height="2.0" fill="#111"/>
<rect x="61.10" y="2192.10" width="2.2" height="10.6" fill="#111"/>
<text x="46.36" y="2226.80" font-size="25.4" textLength="21.09" lengthAdjust="spacingAndGlyphs">Q</text>
<path d="M74.97,2209.00 L74.97,2226.80 L72.62,2226.80 L72.62,2214.70 L71.37,2214.00 L68.17,2214.20 L68.17,2212.30 L70.57,2211.70 L71.97,2210.00 L72.47,2209.00 Z"/>
<text x="30.37" y="2251.50" font-size="25.4" textLength="14.87" lengthAdjust="spacingAndGlyphs">2</text>
<text x="45.99" y="2251.50" font-size="25.4" textLength="15.40" lengthAdjust="spacingAndGlyphs">0</text>
<text x="61.88" y="2251.50" font-size="25.4" textLength="14.87" lengthAdjust="spacingAndGlyphs">2</text>
<text x="77.48" y="2251.50" font-size="25.4" textLength="15.72" lengthAdjust="spacingAndGlyphs">0</text>
<rect x="139.70" y="2192.10" width="2.2" height="10.6" fill="#111"/>
<text x="124.96" y="2226.80" font-size="25.4" textLength="21.09" lengthAdjust="spacingAndGlyphs">Q</text>
<path d="M153.57,2209.00 L153.57,2226.80 L151.22,2226.80 L151.22,2214.70 L149.97,2214.00 L146.77,2214.20 L146.77,2212.30 L149.17,2211.70 L150.57,2210.00 L151.07,2209.00 Z"/>
<text x="112.21" y="2251.50" font-size="25.4" textLength="15.33" lengthAdjust="spacingAndGlyphs">2</text>
<text x="127.94" y="2251.50" font-size="25.4" textLength="16.01" lengthAdjust="spacingAndGlyphs">0</text>
<text x="144.11" y="2251.50" font-size="25.4" textLength="15.04" lengthAdjust="spacingAndGlyphs">2</text>
<path d="M166.96,2233.70 L166.96,2251.50 L164.61,2251.50 L164.61,2239.40 L163.36,2238.70 L160.16,2238.90 L160.16,2237.00 L162.56,2236.40 L163.96,2234.70 L164.46,2233.70 Z"/>
<rect x="218.30" y="2192.10" width="2.2" height="10.6" fill="#111"/>
<text x="203.56" y="2226.80" font-size="25.4" textLength="21.09" lengthAdjust="spacingAndGlyphs">Q</text>
<path d="M232.17,2209.00 L232.17,2226.80 L229.82,2226.80 L229.82,2214.70 L228.57,2214.00 L225.37,2214.20 L225.37,2212.30 L227.77,2211.70 L229.17,2210.00 L229.67,2209.00 Z"/>
<text x="188.48" y="2251.50" font-size="25.4" textLength="14.75" lengthAdjust="spacingAndGlyphs">2</text>
<text x="204.25" y="2251.50" font-size="25.4" textLength="15.40" lengthAdjust="spacingAndGlyphs">0</text>
<text x="220.02" y="2251.50" font-size="25.4" textLength="15.00" lengthAdjust="spacingAndGlyphs">2</text>
<text x="235.21" y="2251.50" font-size="25.4" textLength="15.20" lengthAdjust="spacingAndGlyphs">2</text>
<rect x="296.90" y="2192.10" width="2.2" height="10.6" fill="#111"/>
<text x="282.16" y="2226.80" font-size="25.4" textLength="21.09" lengthAdjust="spacingAndGlyphs">Q</text>
<path d="M310.77,2209.00 L310.77,2226.80 L308.42,2226.80 L308.42,2214.70 L307.17,2214.00 L303.97,2214.20 L303.97,2212.30 L306.37,2211.70 L307.77,2210.00 L308.27,2209.00 Z"/>
<text x="266.58" y="2251.50" font-size="25.4" textLength="15.06" lengthAdjust="spacingAndGlyphs">2</text>
<text x="282.20" y="2251.50" font-size="25.4" textLength="15.72" lengthAdjust="spacingAndGlyphs">0</text>
<text x="298.18" y="2251.50" font-size="25.4" textLength="15.26" lengthAdjust="spacingAndGlyphs">2</text>
<text x="313.21" y="2251.50" font-size="25.4" textLength="15.84" lengthAdjust="spacingAndGlyphs">3</text>
<polyline points="62.20,2092.92 101.50,2125.80 140.80,2060.05 180.10,2191.55 219.40,2191.55 258.70,2092.92 298.00,1928.55 337.30,1994.30" fill="none" stroke="#000" stroke-width="5.5" stroke-linejoin="round" stroke-linecap="round"/>
<text x="441.65" y="1856.80" font-size="28.8" font-weight="bold" textLength="136.78" lengthAdjust="spacingAndGlyphs" stroke="#000" stroke-width="0.35">Las Vegas</text>
<text x="792.16" y="2176.10" font-size="25.4" textLength="16.17" lengthAdjust="spacingAndGlyphs">0</text>
<rect x="774.30" y="2125.30" width="34.00" height="2.1" fill="#111"/>
<text x="792.78" y="2110.35" font-size="25.4" textLength="15.60" lengthAdjust="spacingAndGlyphs">5</text>
<rect x="774.30" y="2059.55" width="34.00" height="2.1" fill="#111"/>
<path d="M789.40,2026.80 L789.40,2044.60 L787.05,2044.60 L787.05,2032.50 L785.80,2031.80 L782.60,2032.00 L782.60,2030.10 L785.00,2029.50 L786.40,2027.80 L786.90,2026.80 Z"/>
<text x="792.16" y="2044.60" font-size="25.4" textLength="16.17" lengthAdjust="spacingAndGlyphs">0</text>
<rect x="774.30" y="1993.80" width="34.00" height="2.1" fill="#111"/>
<path d="M791.30,1961.05 L791.30,1978.85 L788.95,1978.85 L788.95,1966.75 L787.70,1966.05 L784.50,1966.25 L784.50,1964.35 L786.90,1963.75 L788.30,1962.05 L788.80,1961.05 Z"/>
<text x="792.89" y="1978.85" font-size="25.4" textLength="15.48" lengthAdjust="spacingAndGlyphs">5</text>
<rect x="774.30" y="1928.05" width="34.00" height="2.1" fill="#111"/>
<text x="776.14" y="1913.10" font-size="25.4" textLength="15.02" lengthAdjust="spacingAndGlyphs">2</text>
<text x="792.16" y="1913.10" font-size="25.4" textLength="16.17" lengthAdjust="spacingAndGlyphs">0</text>
<rect x="462.40" y="2191.10" width="344.00" height="2.0" fill="#111"/>
<rect x="475.20" y="2192.10" width="2.2" height="10.6" fill="#111"/>
<text x="460.46" y="2226.80" font-size="25.4" textLength="21.09" lengthAdjust="spacingAndGlyphs">Q</text>
<path d="M489.07,2209.00 L489.07,2226.80 L486.72,2226.80 L486.72,2214.70 L485.47,2214.00 L482.27,2214.20 L482.27,2212.30 L484.67,2211.70 L486.07,2210.00 L486.57,2209.00 Z"/>
<text x="444.47" y="2251.50" font-size="25.4" textLength="14.87" lengthAdjust="spacingAndGlyphs">2</text>
<text x="460.09" y="2251.50" font-size="25.4" textLength="15.40" lengthAdjust="spacingAndGlyphs">0</text>
<text x="475.98" y="2251.50" font-size="25.4" textLength="14.87" lengthAdjust="spacingAndGlyphs">2</text>
<text x="491.58" y="2251.50" font-size="25.4" textLength="15.72" lengthAdjust="spacingAndGlyphs">0</text>
<rect x="552.30" y="2192.10" width="2.2" height="10.6" fill="#111"/>
<text x="537.56" y="2226.80" font-size="25.4" textLength="21.09" lengthAdjust="spacingAndGlyphs">Q</text>
<path d="M566.17,2209.00 L566.17,2226.80 L563.82,2226.80 L563.82,2214.70 L562.57,2214.00 L559.37,2214.20 L559.37,2212.30 L561.77,2211.70 L563.17,2210.00 L563.67,2209.00 Z"/>
<text x="524.81" y="2251.50" font-size="25.4" textLength="15.33" lengthAdjust="spacingAndGlyphs">2</text>
<text x="540.54" y="2251.50" font-size="25.4" textLength="16.01" lengthAdjust="spacingAndGlyphs">0</text>
<text x="556.71" y="2251.50" font-size="25.4" textLength="15.04" lengthAdjust="spacingAndGlyphs">2</text>
<path d="M579.56,2233.70 L579.56,2251.50 L577.21,2251.50 L577.21,2239.40 L575.96,2238.70 L572.76,2238.90 L572.76,2237.00 L575.16,2236.40 L576.56,2234.70 L577.06,2233.70 Z"/>
<rect x="629.40" y="2192.10" width="2.2" height="10.6" fill="#111"/>
<text x="614.66" y="2226.80" font-size="25.4" textLength="21.09" lengthAdjust="spacingAndGlyphs">Q</text>
<path d="M643.27,2209.00 L643.27,2226.80 L640.92,2226.80 L640.92,2214.70 L639.67,2214.00 L636.47,2214.20 L636.47,2212.30 L638.87,2211.70 L640.27,2210.00 L640.77,2209.00 Z"/>
<text x="599.58" y="2251.50" font-size="25.4" textLength="14.75" lengthAdjust="spacingAndGlyphs">2</text>
<text x="615.35" y="2251.50" font-size="25.4" textLength="15.40" lengthAdjust="spacingAndGlyphs">0</text>
<text x="631.12" y="2251.50" font-size="25.4" textLength="15.00" lengthAdjust="spacingAndGlyphs">2</text>
<text x="646.31" y="2251.50" font-size="25.4" textLength="15.20" lengthAdjust="spacingAndGlyphs">2</text>
<rect x="706.50" y="2192.10" width="2.2" height="10.6" fill="#111"/>
<text x="691.76" y="2226.80" font-size="25.4" textLength="21.09" lengthAdjust="spacingAndGlyphs">Q</text>
<path d="M720.37,2209.00 L720.37,2226.80 L718.02,2226.80 L718.02,2214.70 L716.77,2214.00 L713.57,2214.20 L713.57,2212.30 L715.97,2211.70 L717.37,2210.00 L717.87,2209.00 Z"/>
<text x="676.18" y="2251.50" font-size="25.4" textLength="15.06" lengthAdjust="spacingAndGlyphs">2</text>
<text x="691.80" y="2251.50" font-size="25.4" textLength="15.72" lengthAdjust="spacingAndGlyphs">0</text>
<text x="707.78" y="2251.50" font-size="25.4" textLength="15.26" lengthAdjust="spacingAndGlyphs">2</text>
<text x="722.81" y="2251.50" font-size="25.4" textLength="15.84" lengthAdjust="spacingAndGlyphs">3</text>
<polyline points="476.30,1968.00 514.85,2138.95 553.40,2165.25 591.95,2165.25 630.50,2165.25 669.05,2152.10 707.60,2033.75 746.15,2073.20" fill="none" stroke="#000" stroke-width="5.5" stroke-linejoin="round" stroke-linecap="round"/>
<text x="855.67" y="1856.80" font-size="28.8" font-weight="bold" textLength="117.24" lengthAdjust="spacingAndGlyphs" stroke="#000" stroke-width="0.35">Portland</text>
<path d="M1203.50,2158.30 L1203.50,2176.10 L1201.15,2176.10 L1201.15,2164.00 L1199.90,2163.30 L1196.70,2163.50 L1196.70,2161.60 L1199.10,2161.00 L1200.50,2159.30 L1201.00,2158.30 Z"/>
<text x="1206.26" y="2176.10" font-size="25.4" textLength="16.17" lengthAdjust="spacingAndGlyphs">0</text>
<rect x="1188.00" y="2125.30" width="32.70" height="2.1" fill="#111"/>
<path d="M1205.40,2092.55 L1205.40,2110.35 L1203.05,2110.35 L1203.05,2098.25 L1201.80,2097.55 L1198.60,2097.75 L1198.60,2095.85 L1201.00,2095.25 L1202.40,2093.55 L1202.90,2092.55 Z"/>
<text x="1206.99" y="2110.35" font-size="25.4" textLength="15.48" lengthAdjust="spacingAndGlyphs">5</text>
<rect x="1188.00" y="2059.55" width="32.70" height="2.1" fill="#111"/>
<text x="1190.24" y="2044.60" font-size="25.4" textLength="15.02" lengthAdjust="spacingAndGlyphs">2</text>
<text x="1206.26" y="2044.60" font-size="25.4" textLength="16.17" lengthAdjust="spacingAndGlyphs">0</text>
<rect x="1188.00" y="1993.80" width="32.70" height="2.1" fill="#111"/>
<text x="1192.90" y="1978.85" font-size="25.4" textLength="15.50" lengthAdjust="spacingAndGlyphs">2</text>
<text x="1207.64" y="1978.85" font-size="25.4" textLength="14.78" lengthAdjust="spacingAndGlyphs">5</text>
<rect x="1188.00" y="1928.05" width="32.70" height="2.1" fill="#111"/>
<text x="1189.40" y="1913.10" font-size="25.4" textLength="16.07" lengthAdjust="spacingAndGlyphs">3</text>
<text x="1206.26" y="1913.10" font-size="25.4" textLength="16.17" lengthAdjust="spacingAndGlyphs">0</text>
<rect x="876.50" y="2191.10" width="344.00" height="2.0" fill="#111"/>
<rect x="889.30" y="2192.10" width="2.2" height="10.6" fill="#111"/>
<text x="874.56" y="2226.80" font-size="25.4" textLength="21.09" lengthAdjust="spacingAndGlyphs">Q</text>
<path d="M903.17,2209.00 L903.17,2226.80 L900.82,2226.80 L900.82,2214.70 L899.57,2214.00 L896.37,2214.20 L896.37,2212.30 L898.77,2211.70 L900.17,2210.00 L900.67,2209.00 Z"/>
<text x="858.57" y="2251.50" font-size="25.4" textLength="14.87" lengthAdjust="spacingAndGlyphs">2</text>
<text x="874.19" y="2251.50" font-size="25.4" textLength="15.40" lengthAdjust="spacingAndGlyphs">0</text>
<text x="890.08" y="2251.50" font-size="25.4" textLength="14.87" lengthAdjust="spacingAndGlyphs">2</text>
<text x="905.68" y="2251.50" font-size="25.4" textLength="15.72" lengthAdjust="spacingAndGlyphs">0</text>
<rect x="966.40" y="2192.10" width="2.2" height="10.6" fill="#111"/>
<text x="951.66" y="2226.80" font-size="25.4" textLength="21.09" lengthAdjust="spacingAndGlyphs">Q</text>
<path d="M980.27,2209.00 L980.27,2226.80 L977.92,2226.80 L977.92,2214.70 L976.67,2214.00 L973.47,2214.20 L973.47,2212.30 L975.87,2211.70 L977.27,2210.00 L977.77,2209.00 Z"/>
<text x="938.91" y="2251.50" font-size="25.4" textLength="15.33" lengthAdjust="spacingAndGlyphs">2</text>
<text x="954.64" y="2251.50" font-size="25.4" textLength="16.01" lengthAdjust="spacingAndGlyphs">0</text>
<text x="970.81" y="2251.50" font-size="25.4" textLength="15.04" lengthAdjust="spacingAndGlyphs">2</text>
<path d="M993.66,2233.70 L993.66,2251.50 L991.31,2251.50 L991.31,2239.40 L990.06,2238.70 L986.86,2238.90 L986.86,2237.00 L989.26,2236.40 L990.66,2234.70 L991.16,2233.70 Z"/>
<rect x="1043.50" y="2192.10" width="2.2" height="10.6" fill="#111"/>
<text x="1028.76" y="2226.80" font-size="25.4" textLength="21.09" lengthAdjust="spacingAndGlyphs">Q</text>
<path d="M1057.37,2209.00 L1057.37,2226.80 L1055.02,2226.80 L1055.02,2214.70 L1053.77,2214.00 L1050.57,2214.20 L1050.57,2212.30 L1052.97,2211.70 L1054.37,2210.00 L1054.87,2209.00 Z"/>
<text x="1013.68" y="2251.50" font-size="25.4" textLength="14.75" lengthAdjust="spacingAndGlyphs">2</text>
<text x="1029.45" y="2251.50" font-size="25.4" textLength="15.40" lengthAdjust="spacingAndGlyphs">0</text>
<text x="1045.22" y="2251.50" font-size="25.4" textLength="15.00" lengthAdjust="spacingAndGlyphs">2</text>
<text x="1060.41" y="2251.50" font-size="25.4" textLength="15.20" lengthAdjust="spacingAndGlyphs">2</text>
<rect x="1120.60" y="2192.10" width="2.2" height="10.6" fill="#111"/>
<text x="1105.86" y="2226.80" font-size="25.4" textLength="21.09" lengthAdjust="spacingAndGlyphs">Q</text>
<path d="M1134.47,2209.00 L1134.47,2226.80 L1132.12,2226.80 L1132.12,2214.70 L1130.87,2214.00 L1127.67,2214.20 L1127.67,2212.30 L1130.07,2211.70 L1131.47,2210.00 L1131.97,2209.00 Z"/>
<text x="1090.28" y="2251.50" font-size="25.4" textLength="15.06" lengthAdjust="spacingAndGlyphs">2</text>
<text x="1105.90" y="2251.50" font-size="25.4" textLength="15.72" lengthAdjust="spacingAndGlyphs">0</text>
<text x="1121.88" y="2251.50" font-size="25.4" textLength="15.26" lengthAdjust="spacingAndGlyphs">2</text>
<text x="1136.91" y="2251.50" font-size="25.4" textLength="15.84" lengthAdjust="spacingAndGlyphs">3</text>
<polyline points="890.40,1954.85 928.95,1968.00 967.50,2020.60 1006.05,2125.80 1044.60,2165.25 1083.15,2125.80 1121.70,2138.95 1160.25,2138.95" fill="none" stroke="#000" stroke-width="5.5" stroke-linejoin="round" stroke-linecap="round"/>
<text x="27.41" y="2375.50" font-size="26.5" textLength="298.87" lengthAdjust="spacingAndGlyphs">Source: RLB Crane Index</text>
<text x="1103.47" y="2371.80" font-size="28.5" textLength="143.34" lengthAdjust="spacingAndGlyphs" stroke="#000" stroke-width="0.9">Bloomberg</text>
</svg>
</body></html>
